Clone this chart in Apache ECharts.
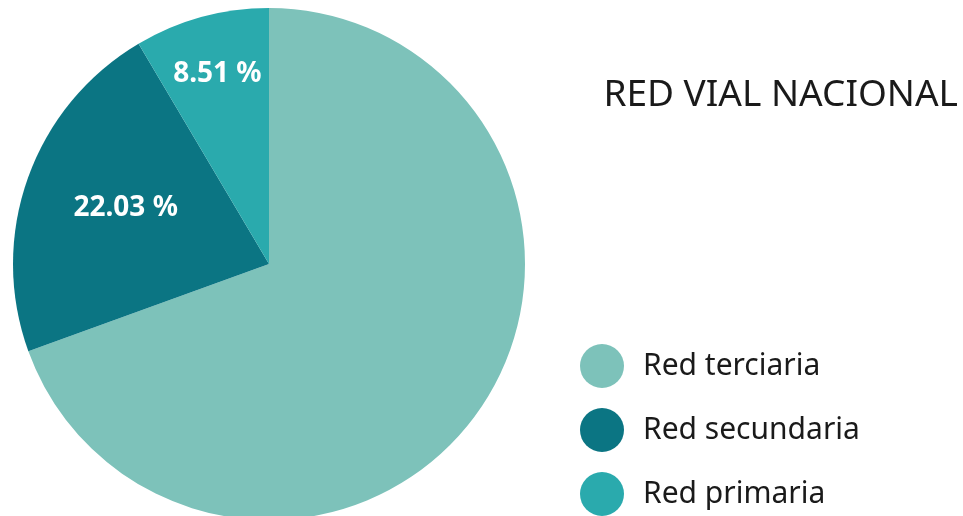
<!DOCTYPE html>
<html>
<head>
<meta charset="utf-8">
<script src="https://cdn.jsdelivr.net/npm/echarts@6/dist/echarts.min.js"></script>
<style>
  html, body { margin: 0; padding: 0; background: #fff; }
  #chart { width: 963px; height: 516px; }
</style>
</head>
<body>
<div id="chart"></div>
<script>
  // datos de la red vial
  var categorias = ['Red terciaria', 'Red secundaria', 'Red primaria'];
  var porcentajes = [69.46, 22.03, 8.51];
  var colores = ['#7dc2ba', '#0b7583', '#2aaaad'];
  var mostrarEtiqueta = [false, true, true];
  var desplazamientos = [[0, 0], [-20, -12], [-17, -64]];

  var chart = echarts.init(document.getElementById('chart'));

  var datos = categorias.map(function (nombre, i) {
    return {
      name: nombre,
      value: porcentajes[i],
      itemStyle: {color: colores[i]},
      label: {show: mostrarEtiqueta[i], offset: desplazamientos[i]}
    };
  });

  chart.setOption({
    animation: false,
    textStyle: {fontFamily: 'Noto Sans'},
    title: {
      text: 'RED VIAL NACIONAL',
      right: 0,
      top: 72,
      textStyle: {fontSize: 37, fontWeight: 'normal', color: '#1a1a1a', fontFamily: 'Noto Sans'}
    },
    legend: {
      orient: 'vertical',
      left: 575,
      top: 339,
      height: 177,
      icon: 'circle',
      itemWidth: 44,
      itemHeight: 44,
      itemGap: 20,
      data: categorias,
      textStyle: {fontSize: 30, color: '#1a1a1a', padding: [0, 0, 0, 14]}
    },
    series: [{
      type: 'pie',
      center: [269, 264],
      radius: 256,
      startAngle: 90,
      clockwise: true,
      label: {
        position: 'inside',
        color: '#fff',
        fontSize: 28,
        fontWeight: 'bold',
        formatter: function (p) { return p.value.toFixed(2) + ' %'; }
      },
      labelLine: {show: false},
      emphasis: {disabled: true},
      data: datos
    }]
  });
</script>
</body>
</html>
